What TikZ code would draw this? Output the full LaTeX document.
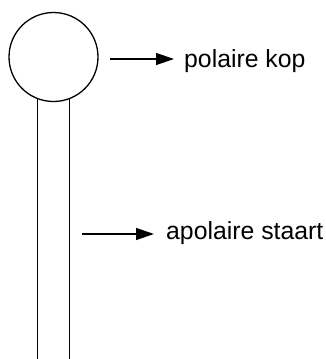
\documentclass[tikz,border=0pt]{standalone}
\usepackage{fontspec}
\setmainfont{Liberation Sans}
\usetikzlibrary{arrows.meta,positioning}

\begin{document}
\begin{tikzpicture}[
    x=1pt, y=-1pt,
    kopstyle/.style={circle, draw, line width=1.3pt, minimum size=89pt, inner sep=0pt},
    lbl/.style={inner sep=0pt, anchor=base west, font=\fontsize{24.8}{30}\selectfont},
    arrow/.style={-{Triangle[length=18pt,width=12pt]}, line width=1.3pt}
]
    \useasboundingbox (0,0) rectangle (326,359);

    % kop en staart
    \node[kopstyle] (kop) at (53.5,57) {};
    \draw[line width=1.3pt] (37.5,98.5) -- (37.5,359);
    \draw[line width=1.3pt] (69.5,98.5) -- (69.5,359);

    % labels
    \node[lbl] (polair) at (184,67) {polaire kop};
    \node[lbl] (apolair) at (166,239) {apolaire staart};

    \coordinate (start1) at (110,59);
    \coordinate (start2) at (82,234);
    \draw[arrow] (start1) -- ([xshift=-10pt]polair.west |- start1);
    \draw[arrow] (start2) -- ([xshift=-12pt]apolair.west |- start2);
\end{tikzpicture}
\end{document}
